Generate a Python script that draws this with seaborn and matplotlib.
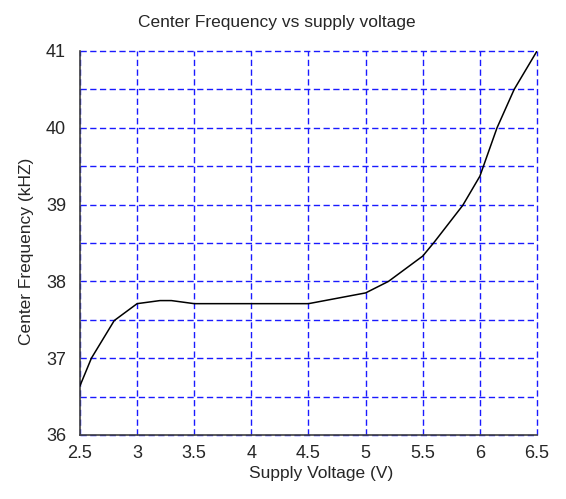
import numpy as np
import pandas as pd
import seaborn as sns
import matplotlib.pyplot as plt
from matplotlib.ticker import MultipleLocator

# Data
voltage = [2.5, 2.6, 2.8, 3.0, 3.2, 3.3, 3.5, 4.5, 5.0, 5.2, 5.5, 5.6, 5.85, 6.0, 6.15, 6.3, 6.5]
frequency = [36.64, 37.0, 37.49, 37.71, 37.75, 37.75, 37.71, 37.71, 37.85, 38.0, 38.33, 38.51,
             38.99, 39.37, 40.0, 40.5, 41.0]

df = pd.DataFrame({'Supply Voltage (V)': voltage, 'Center Frequency (kHZ)': frequency})

sns.set_style('white')
plt.rcParams['font.family'] = ['Liberation Sans', 'DejaVu Sans']

fig = plt.figure(figsize=(5.66, 4.99), dpi=100)
ax = fig.add_axes([0.1413, 0.1283, 0.8075, 0.7695])
ax.set_axisbelow(True)

sns.lineplot(data=df, x='Supply Voltage (V)', y='Center Frequency (kHZ)', ax=ax,
             color='black', linewidth=1.1, zorder=3)

ax.set_xlim(2.5, 6.5)
ax.set_ylim(36, 41)
ax.xaxis.set_major_locator(MultipleLocator(0.5))
ax.yaxis.set_major_locator(MultipleLocator(1))
ax.yaxis.set_minor_locator(MultipleLocator(0.5))
ax.set_xticklabels([f'{v:g}' for v in ax.get_xticks()])

# dashed blue grid, not clipped so the lines at 6.5 and 41 show fully
ax.grid(True, which='both', color='#1a1aff', linestyle=(0, (4.5, 2.5)), linewidth=1.0,
        clip_on=False)
ax.tick_params(which='both', length=0, labelsize=13)
ax.tick_params(axis='x', pad=7)
ax.tick_params(axis='y', pad=10)

for s in ['top', 'right']:
    ax.spines[s].set_visible(False)
for s in ['left', 'bottom']:
    ax.spines[s].set_color('#404040')
    ax.spines[s].set_linewidth(1.2)
    ax.spines[s].set_zorder(2.6)

ax.set_title('Center Frequency vs supply voltage', fontsize=12.5, x=0.431, pad=17)
ax.set_xlabel('Supply Voltage (V)', fontsize=12.5)
ax.set_ylabel('Center Frequency (kHZ)', fontsize=12.5)
ax.xaxis.set_label_coords(0.527, -0.081)
ax.yaxis.set_label_coords(-0.1007, 0.477)

fig.savefig('out.png', dpi=100)
